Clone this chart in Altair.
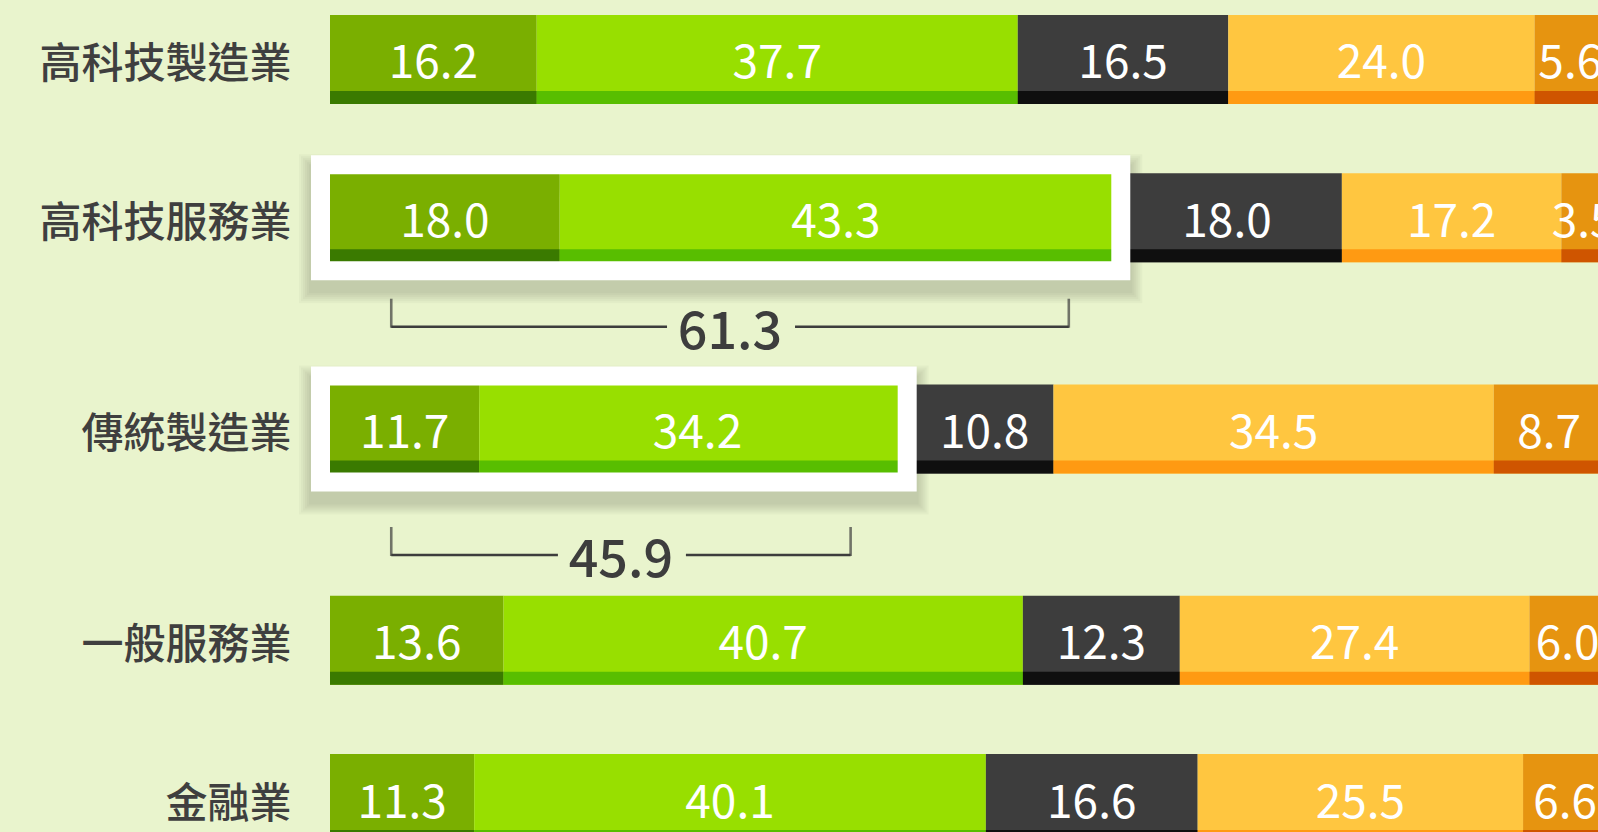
import altair as alt
import pandas as pd

# ---------------- data ----------------
categories = ["高科技製造業", "高科技服務業", "傳統製造業", "一般服務業", "金融業"]
seg1 = [16.2, 18.0, 11.7, 13.6, 11.3]
seg2 = [37.7, 43.3, 34.2, 40.7, 40.1]
seg3 = [16.5, 18.0, 10.8, 12.3, 16.6]
seg4 = [24.0, 17.2, 34.5, 27.4, 25.5]
seg5 = [5.6, 3.5, 8.7, 6.0, 6.6]

highlight_rows = ["高科技服務業", "傳統製造業"]
bracket_totals = [61.3, 45.9]
bracket_start = [4.8, 4.8]
bracket_end = [57.9, 40.8]

# ---------------- style ----------------
BG = "#E9F4CD"
INK = "#3D3D3D"
FONT = "Noto Sans CJK TC"
seg_names = ["s1", "s2", "s3", "s4", "s5"]
main_colors = ["#7AAF00", "#98DF00", "#3D3D3D", "#FFC640", "#E69410"]
stripe_colors = ["#3A7A00", "#58BE00", "#0F0F0F", "#FF9A12", "#CF5500"]

# band slots (rows plus empty slots that leave room for the brackets)
N_SLOTS = 15
row_slots = [0, 3, 7, 11, 14]
bracket_slots = [5, 9]
domain = [" " * (i + 1) for i in range(N_SLOTS)]
for c, s in zip(categories, row_slots):
    domain[s] = c
bracket_cats = [domain[s] for s in bracket_slots]

# ---------------- tables ----------------
rows = []
for i, c in enumerate(categories):
    acc = 0.0
    for name, v in zip(seg_names, [seg1[i], seg2[i], seg3[i], seg4[i], seg5[i]]):
        rows.append(dict(cat=c, seg=name, start=acc, end=acc + v,
                         mid=acc + v / 2, label=f"{v:.1f}"))
        acc += v
bars = pd.DataFrame(rows)

frames = pd.DataFrame(dict(
    cat=highlight_rows,
    start=[0.0, 0.0],
    end=[seg1[categories.index(r)] + seg2[categories.index(r)] for r in highlight_rows],
))

brackets = pd.DataFrame(dict(
    cat=bracket_cats,
    start=bracket_start,
    end=bracket_end,
    mid=[(a + b) / 2 for a, b in zip(bracket_start, bracket_end)],
    label=[f"{t:.1f}" for t in bracket_totals],
))

# ---------------- encodings ----------------
y_enc = alt.Y(
    "cat:N",
    scale=alt.Scale(domain=domain, range=[0, 858], paddingInner=0, paddingOuter=0.627),
    axis=alt.Axis(
        title=None, domain=False, ticks=False, tickSize=0, grid=False,
        labelFont=FONT, labelFontSize=42, labelFontWeight=500, labelColor="#3F3F3F",
        labelPadding=39, labelOffset=6, labelLimit=400, minExtent=330, maxExtent=330,
    ),
)
xs = alt.Scale(domain=[0, 100], range=[0, 1276])


def X(field):
    return alt.X(field, type="quantitative", scale=xs, axis=None)


layers = []

# soft shadows of the white frames
frame_right = [8.6, -8.5]
for k in range(6):
    for j, r in enumerate(highlight_rows):
        layers.append(
            alt.Chart(frames[frames.cat == r]).mark_bar(
                fillOpacity=0, stroke="black", strokeOpacity=0.026,
                strokeWidth=19 + 2 * (2 * k + 2), size=106,
                xOffset=-9.5, x2Offset=frame_right[j], yOffset=11,
            ).encode(x=X("start"), x2="end:Q", y=y_enc)
        )

# main bars
layers.append(
    alt.Chart(bars).mark_bar(size=89, clip=True).encode(
        x=X("start"), x2="end:Q", y=y_enc,
        color=alt.Color("seg:N", scale=alt.Scale(domain=seg_names, range=main_colors), legend=None),
    )
)
# bottom stripes
layers.append(
    alt.Chart(bars).mark_bar(size=13, yOffset=38, clip=True).encode(
        x=X("start"), x2="end:Q", y=y_enc,
        color=alt.Color("seg:N", scale=alt.Scale(domain=seg_names, range=stripe_colors), legend=None),
    )
)
# values
layers.append(
    alt.Chart(bars).mark_text(
        color="white", font=FONT, fontSize=46, baseline="middle", align="center",
        dy=5, clip=True,
    ).encode(x=X("mid"), y=y_enc, text="label:N")
)

# white frames
for j, r in enumerate(highlight_rows):
    layers.append(
        alt.Chart(frames[frames.cat == r]).mark_bar(
            fillOpacity=0, stroke="white", strokeWidth=19, size=106,
            xOffset=-9.5, x2Offset=frame_right[j],
        ).encode(x=X("start"), x2="end:Q", y=y_enc)
    )

# brackets
bracket_dy = [3.3, 20.4]
for j, c in enumerate(bracket_cats):
    d = brackets[brackets.cat == c]
    off = bracket_dy[j]
    layers.append(
        alt.Chart(d).mark_rule(color=INK, strokeWidth=2.6, x2Offset=-63, yOffset=off).encode(
            x=X("start"), x2="mid:Q", y=y_enc)
    )
    layers.append(
        alt.Chart(d).mark_rule(color=INK, strokeWidth=2.6, xOffset=65, yOffset=off).encode(
            x=X("mid"), x2="end:Q", y=y_enc)
    )
    for fld in ["start", "end"]:
        layers.append(
            alt.Chart(d).mark_tick(color=INK, thickness=2.6, size=29, yOffset=off - 13.5,
                                   orient="vertical").encode(x=X(fld), y=y_enc)
        )
    layers.append(
        alt.Chart(d).mark_text(
            color=INK, font=FONT, fontSize=52, fontWeight=500,
            baseline="middle", align="center", dy=off + 6,
        ).encode(x=X("mid"), y=y_enc, text="label:N")
    )

chart = (
    alt.layer(*layers)
    .resolve_scale(color="independent")
    .properties(width=1268, height=832, background=BG, padding=0)
    .configure_view(strokeWidth=0)
)

chart.save("out.html", embed_options={"renderer": "svg", "actions": False})
